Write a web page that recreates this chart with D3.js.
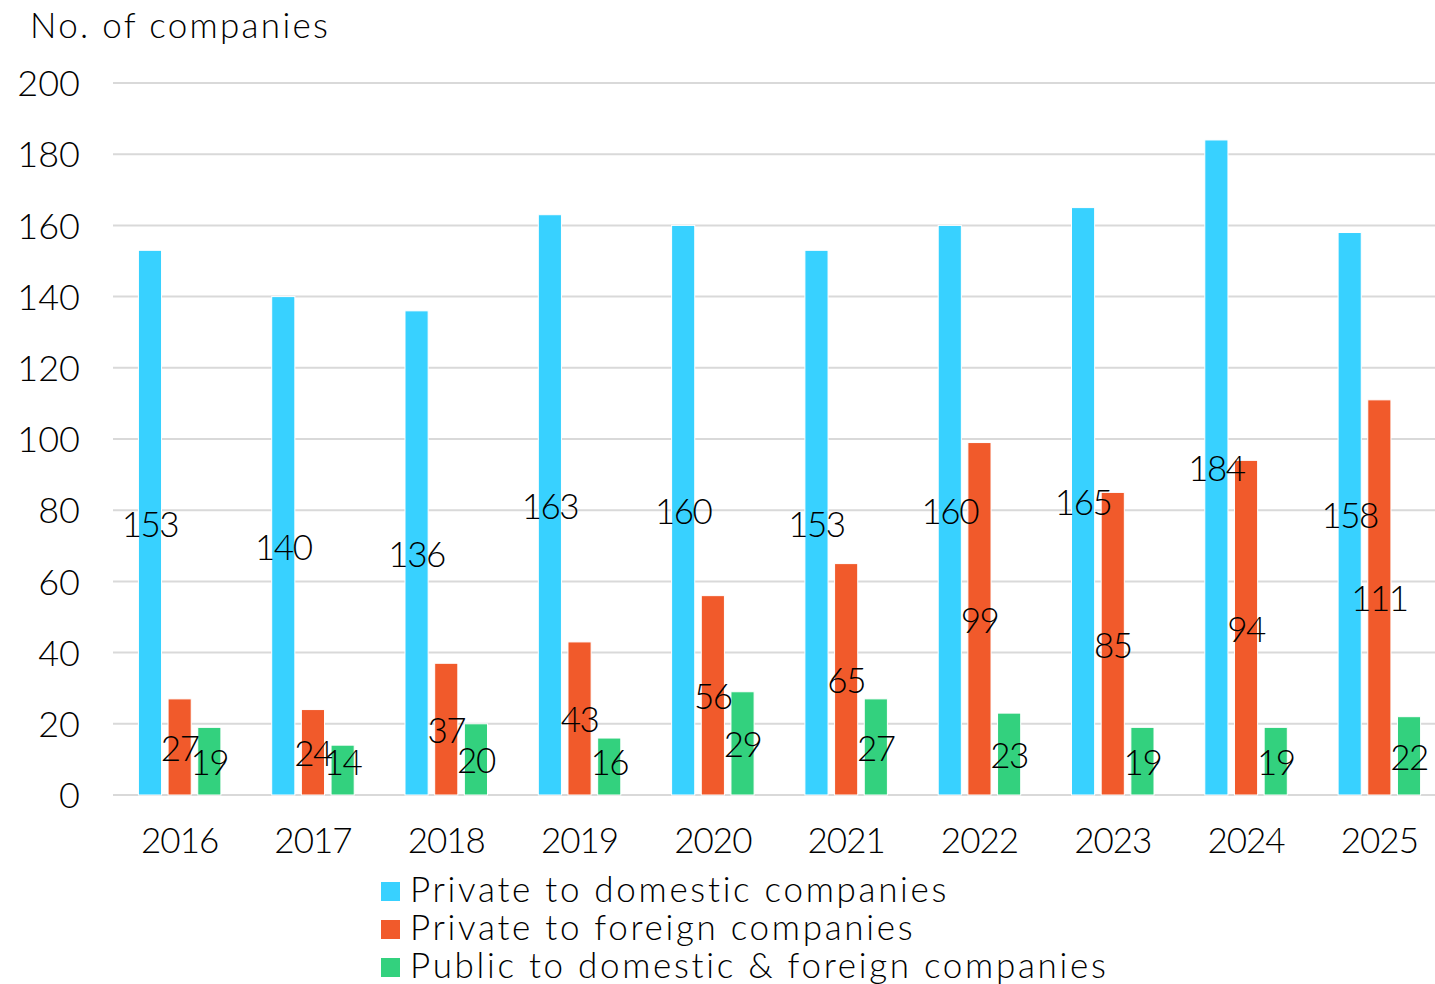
<!DOCTYPE html>
<html>
<head>
<meta charset="utf-8">
<script src="https://cdn.jsdelivr.net/npm/d3@7"></script>
<style>
  html, body { margin: 0; padding: 0; background: #fff; }
  svg { display: block; }
  text { font-family: "Lato", "Inter", sans-serif; font-weight: 300; fill: #000; }
</style>
</head>
<body>
<svg id="chart" width="1435" height="984"></svg>
<script>
const years = ["2016","2017","2018","2019","2020","2021","2022","2023","2024","2025"];
const seriesNames = ["Private to domestic companies","Private to foreign companies","Public to domestic & foreign companies"];
const privateDomestic = [153,140,136,163,160,153,160,165,184,158];
const privateForeign = [27,24,37,43,56,65,99,85,94,111];
const publicAll = [19,14,20,16,29,27,23,19,19,22];
const colors = ["#38D1FF","#F15A2B","#33D17E"];
const yTicks = [0,20,40,60,80,100,120,140,160,180,200];

const seriesValues = [privateDomestic, privateForeign, publicAll];

const svg = d3.select("#chart");
const x0 = d3.scaleBand().domain(years).range([113, 1446]).padding(0);
const groupW = 82.5;
const x1 = d3.scaleBand().domain(d3.range(3)).range([0, groupW]).paddingInner(0.22).paddingOuter(0);
const y = d3.scaleLinear().domain([0, 200]).range([795, 83]);

// gridlines
svg.append("g").selectAll("line").data(yTicks).join("line")
  .attr("x1", 113).attr("x2", 1435)
  .attr("y1", d => y(d)).attr("y2", d => y(d))
  .attr("stroke", "#d9d9d9").attr("stroke-width", 2);

// y tick labels
const yAxis = d3.axisLeft(y).tickValues(yTicks).tickSize(0).tickPadding(0);
const gy = svg.append("g").attr("transform", "translate(80,0)").call(yAxis);
gy.select(".domain").remove();
gy.selectAll("text").attr("font-size", 36).attr("font-family", null).attr("dy", "0.35em");

// x tick labels
const xAxis = d3.axisBottom(x0).tickSize(0).tickPadding(0);
const gx = svg.append("g").attr("transform", "translate(0,853)").call(xAxis);
gx.select(".domain").remove();
gx.selectAll("text").attr("font-size", 35).attr("font-family", null).attr("dy", 0)
  .attr("letter-spacing", -1);

// data
const flat = [];
years.forEach((yr, i) => {
  seriesValues.forEach((vals, s) => flat.push({year: yr, s, v: vals[i]}));
});
const bx = d => x0(d.year) + x0.bandwidth() / 2 - groupW / 2 + x1(d.s);

svg.append("g").selectAll("rect").data(flat).join("rect")
  .attr("x", bx)
  .attr("y", d => y(d.v))
  .attr("width", x1.bandwidth())
  .attr("height", d => y(0) - y(d.v))
  .attr("fill", d => colors[d.s])
  .attr("stroke", "#fff").attr("stroke-width", 1);

svg.append("g").selectAll("text").data(flat).join("text")
  .attr("x", d => bx(d) + x1.bandwidth() / 2)
  .attr("y", d => Math.min((y(d.v) + y(0)) / 2, y(0) - 34))
  .attr("text-anchor", "middle")
  .attr("dominant-baseline", "central")
  .attr("font-size", 35)
  .attr("letter-spacing", -1.5)
  .text(d => d.v);

// title
svg.append("text").attr("x", 30).attr("y", 38).attr("font-size", 35)
  .attr("letter-spacing", 2.3).text("No. of companies");

// legend
const lg = svg.append("g").attr("transform", "translate(381,882)");
const items = lg.selectAll("g").data(seriesNames).join("g")
  .attr("transform", (d, i) => `translate(0,${i * 38})`);
items.append("rect").attr("width", 19).attr("height", 19).attr("fill", (d, i) => colors[i]);
items.append("text").attr("x", 29).attr("y", 20).attr("font-size", 35)
  .attr("letter-spacing", 2.7).text(d => d);
</script>
</body>
</html>
